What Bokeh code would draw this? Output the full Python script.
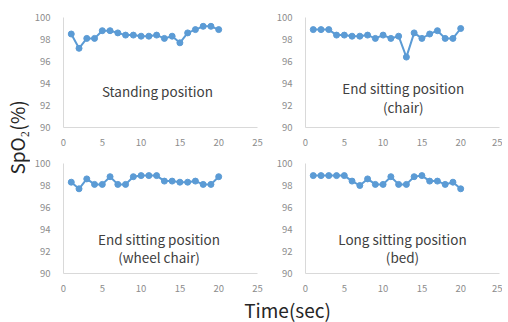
from bokeh.plotting import figure
from bokeh.layouts import row, column
from bokeh.models import Range1d, Label, FixedTicker
from bokeh.embed import file_html
from bokeh.resources import INLINE

time_sec = list(range(1, 21))
standing = [98.5, 97.2, 98.1, 98.1, 98.8, 98.8, 98.6, 98.4, 98.4, 98.3,
            98.3, 98.4, 98.1, 98.3, 97.7, 98.6, 98.9, 99.2, 99.2, 98.9]
chair = [98.9, 98.9, 98.9, 98.4, 98.4, 98.3, 98.3, 98.4, 98.1, 98.4,
         98.1, 98.3, 96.4, 98.6, 98.1, 98.5, 98.8, 98.1, 98.1, 99.0]
wheel_chair = [98.3, 97.7, 98.6, 98.1, 98.1, 98.8, 98.1, 98.1, 98.8, 98.9,
               98.9, 98.9, 98.4, 98.4, 98.3, 98.3, 98.4, 98.1, 98.1, 98.8]
bed = [98.9, 98.9, 98.9, 98.9, 98.9, 98.4, 98.0, 98.6, 98.1, 98.1,
       98.8, 98.1, 98.1, 98.8, 98.9, 98.4, 98.4, 98.1, 98.3, 97.7]

x_ticks = [0, 5, 10, 15, 20, 25]
y_ticks = [90, 92, 94, 96, 98, 100]

panel_titles = [
    ["Standing position"],
    ["End sitting position", "(chair)"],
    ["End sitting position", "(wheel chair)"],
    ["Long sitting position", "(bed)"],
]
y_axis_label = "SpO₂(%)"
x_axis_label = "Time(sec)"

FONT = "Noto Sans CJK JP"
BLUE = "#5b9bd5"

YLAB_W = 30
TOTAL_H = 321


def make_panel(values, title_lines, title_x, title_ys, top, bottom, left, right):
    p = figure(frame_width=194, frame_height=110,
               x_range=Range1d(0, 25), y_range=Range1d(90, 100),
               output_backend="svg", toolbar_location=None,
               min_border_top=top, min_border_bottom=bottom,
               min_border_left=left, min_border_right=right)
    p.outline_line_color = None
    p.grid.visible = False
    for ax in (p.xaxis[0], p.yaxis[0]):
        ax.axis_line_color = "#d9d9d9"
        ax.axis_line_width = 1
        ax.major_tick_line_color = None
        ax.minor_tick_line_color = None
        ax.major_label_text_color = "#8c8c8c"
        ax.major_label_text_font = FONT
        ax.major_label_text_font_size = "9.5px"
    p.xaxis[0].ticker = FixedTicker(ticks=x_ticks)
    p.yaxis[0].ticker = FixedTicker(ticks=y_ticks)
    p.xaxis[0].major_label_standoff = 5
    p.yaxis[0].major_label_standoff = 7
    p.line(time_sec, values, line_color=BLUE, line_width=2)
    p.scatter(time_sec, values, size=6, fill_color=BLUE, line_color=BLUE)
    for txt, ty in zip(title_lines, title_ys):
        p.add_layout(Label(x=title_x, y=ty, text=txt, text_align="center",
                           text_baseline="middle", text_font=FONT,
                           text_font_size="13.5px", text_color="#404040"))
    return p


p1 = make_panel(standing, panel_titles[0], 12.1, [93.3], 17, 26, 33, 13)
p2 = make_panel(chair, panel_titles[1], 12.6, [93.6, 91.9], 17, 26, 35, 3)
p3 = make_panel(wheel_chair, panel_titles[2], 12.3, [93.1, 91.5], 10, 20, 33, 13)
p4 = make_panel(bed, panel_titles[3], 12.5, [93.1, 91.5], 10, 20, 35, 3)

ylab = figure(width=YLAB_W, height=TOTAL_H, output_backend="svg",
              toolbar_location=None, min_border=0,
              x_range=Range1d(0, 1), y_range=Range1d(0, 1))
ylab.axis.visible = False
ylab.grid.visible = False
ylab.outline_line_color = None
ylab.add_layout(Label(x=16, y=TOTAL_H - 137, x_units="screen", y_units="screen",
                      text=y_axis_label, angle=1.5708, text_align="center",
                      text_baseline="middle", text_font=FONT,
                      text_font_size="19px", text_color="#262626"))

xlab = figure(width=508 - YLAB_W, height=28, output_backend="svg",
              toolbar_location=None, min_border=0,
              x_range=Range1d(0, 1), y_range=Range1d(0, 1))
xlab.axis.visible = False
xlab.grid.visible = False
xlab.outline_line_color = None
xlab.add_layout(Label(x=287 - YLAB_W, y=13, x_units="screen", y_units="screen",
                      text=x_axis_label, text_align="center",
                      text_baseline="middle", text_font=FONT,
                      text_font_size="19px", text_color="#262626"))

layout = row(ylab, column(row(p1, p2), row(p3, p4), xlab))

open("out.html", "w").write(file_html(layout, INLINE))
